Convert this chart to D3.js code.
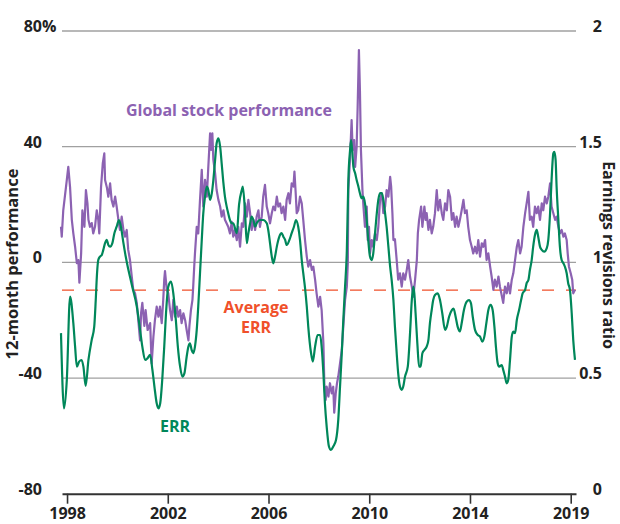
<!DOCTYPE html>
<html><head><meta charset="utf-8">
<script src="https://cdn.jsdelivr.net/npm/d3@7"></script>
<style>
body{margin:0;background:#fff}
svg{display:block}
text{font-family:"Open Sans",sans-serif;font-weight:700}
</style>
</head><body>
<svg id="chart" width="620" height="524"></svg>
<script>
// ---- data ----
const perfYears = [1997.76,1997.79,1997.85,1997.99,1998.05,1998.12,1998.19,1998.25,1998.32,1998.39,1998.45,1998.49,1998.56,1998.61,1998.69,1998.75,1998.81,1998.85,1998.91,1998.98,
1999.04,1999.11,1999.18,1999.24,1999.28,1999.35,1999.42,1999.48,1999.51,1999.58,1999.64,1999.71,1999.77,1999.84,1999.91,1999.97,
2000.04,2000.10,2000.17,2000.24,2000.30,2000.37,2000.43,2000.50,2000.57,2000.63,2000.70,2000.77,2000.83,2000.90,2000.94,2000.99,
2001.07,2001.12,2001.20,2001.30,2001.36,2001.43,2001.49,2001.56,2001.63,2001.69,2001.76,2001.82,2001.86,2001.89,2001.96,
2002.02,2002.09,2002.16,2002.22,2002.29,2002.36,2002.42,2002.49,2002.55,2002.62,2002.69,2002.75,2002.82,2002.86,2002.92,2002.98,
2003.01,2003.05,2003.08,2003.15,2003.21,2003.28,2003.35,2003.41,2003.48,2003.55,2003.61,2003.68,2003.72,2003.77,2003.81,2003.88,2003.94,
2004.01,2004.08,2004.14,2004.21,2004.27,2004.40,2004.47,2004.54,2004.60,2004.67,2004.74,2004.80,2004.87,2004.94,
2005.00,2005.07,2005.14,2005.20,2005.27,2005.33,2005.40,2005.47,2005.53,2005.60,2005.66,2005.73,2005.79,2005.86,2005.93,2005.99,
2006.06,2006.13,2006.19,2006.26,2006.33,2006.39,2006.46,2006.52,2006.59,2006.66,2006.72,2006.79,2006.85,2006.92,2006.99,
2007.03,2007.08,2007.12,2007.18,2007.25,2007.32,2007.38,2007.45,2007.52,2007.58,2007.65,2007.72,2007.78,2007.85,2007.91,2007.98,
2008.05,2008.11,2008.18,2008.22,2008.27,2008.31,2008.38,2008.44,2008.51,2008.57,2008.61,2008.67,2008.72,2008.77,2008.84,2008.91,2008.97,
2009.04,2009.11,2009.15,2009.17,2009.24,2009.30,2009.34,2009.40,2009.44,2009.50,2009.54,2009.59,2009.63,2009.67,2009.73,2009.77,2009.83,2009.90,2009.94,2009.99,
2010.03,2010.10,2010.16,2010.23,2010.30,2010.36,2010.43,2010.50,2010.56,2010.63,2010.69,2010.76,2010.83,2010.87,2010.92,2010.96,
2011.02,2011.09,2011.15,2011.22,2011.29,2011.35,2011.42,2011.49,2011.55,2011.62,2011.69,2011.75,2011.82,2011.89,2011.93,2011.98,
2012.06,2012.11,2012.19,2012.24,2012.28,2012.35,2012.41,2012.48,2012.54,2012.61,2012.68,2012.74,2012.81,2012.88,2012.94,
2013.01,2013.08,2013.14,2013.21,2013.28,2013.34,2013.41,2013.47,2013.54,2013.60,2013.67,2013.74,2013.80,2013.87,2013.93,
2014.00,2014.07,2014.13,2014.20,2014.27,2014.33,2014.40,2014.47,2014.53,2014.60,2014.66,2014.73,2014.80,2014.86,2014.93,2014.99,
2015.06,2015.13,2015.19,2015.32,2015.39,2015.46,2015.52,2015.59,2015.66,2015.72,2015.79,2015.86,2015.92,2015.99,
2016.05,2016.12,2016.19,2016.25,2016.32,2016.38,2016.45,2016.51,2016.58,2016.65,2016.71,2016.78,2016.85,2016.91,2016.98,
2017.05,2017.11,2017.18,2017.24,2017.31,2017.38,2017.44,2017.51,2017.57,2017.64,2017.71,2017.77,2017.84,2017.88,2017.93,
2018.00,2018.06,2018.10,2018.17];
const perfValues = [12.3,8.9,18,28.4,33,26,14.7,10,5.4,-0.3,0.8,-7,3.2,18,12.3,25,20.5,14.7,12.3,13.6,
10,12.3,18,14.7,10,26,34.3,37.7,28.5,26,22.7,27.3,21.6,19.3,22.7,19.3,
14.7,11.2,15.8,11.2,8.9,11.2,4.3,0.8,-4.9,-9.5,-10.7,-14,-20,-27,-17.6,-14,
-22,-16.5,-23.4,-21,-35,-25.7,-20,-15.3,-18.8,-15.3,-21,-13,-6,-3,-9.5,
-10.7,-16.5,-20,-13,-18.8,-15.3,-18.8,-16.5,-21,-17.6,-20,-23.4,-27,-22,-16.5,-13,
-8.4,-1.5,3.1,12.3,10,21.6,32,19.3,28.5,22.7,33,44.6,38.9,44.6,35.4,30.8,25,
21.6,19.3,15.8,18,14.7,12.3,10,14,8.9,11.2,7.7,12.3,5.4,13.5,
12.3,20.4,15.8,21.6,17,11.2,14.7,11.2,15.8,18,12.3,15.8,22.7,26.8,19.3,17,
13.5,17,19.3,18,22.7,19.3,20.4,17,19.3,14.7,21.6,23.9,20.4,27.3,26.2,
31.4,23.9,17,18,22.7,20.4,14.7,7.7,2,-1.5,0.8,-2.6,-1.5,-6,-10.7,-15.3,
-11.9,-16.5,-28,-43,-47.6,-43,-46.4,-41.8,-45.3,-43,-52,-45.3,-41.8,-39.5,-34.9,-30.3,-22.2,
-13,-8.4,-0.2,25,36.5,49.2,38.9,42.3,33,40,53.8,73.4,59.6,38.9,25,19.3,12.3,19.3,7.7,12.3,
3.1,7.7,5.4,10,7.7,12.3,21.6,23.9,17,19.3,25,22.7,29.6,26.2,17,7.7,
8,0.8,-6,-3.8,-8.4,-3.8,-6,-2.6,0.8,-4.9,-8.4,-11.9,-6,0.8,10,14.7,
19.3,12.3,19.3,14.7,17,11.2,14.7,10,12.3,17,25,18,21.6,17,14.7,
20.4,18,25,22.7,14.7,17,12.3,15.8,12.3,14.7,18,21.6,17,18,12.3,
7.7,5.4,3.1,5.4,3.1,7.7,2,6.6,5.4,7.7,0.8,3.1,-1.5,-4.9,-9.5,-6,
-8.4,-4.9,-8.4,-14,-8.4,-10.7,-7.2,-10.7,-6,-3.8,0.8,5.4,7.7,3.1,
5.4,12.3,17,20.4,24.4,14.7,15.8,12.3,19.3,17,19.3,14.7,20.4,18,22.7,
20.4,22.7,27.3,19.3,17,14.7,15.8,12.3,10,11.2,8.9,10,7.7,3.1,-1.5,
-3.8,-6,-10.7,-9.5];

const errYears = [1997.76,1997.88,1997.99,1998.12,1998.25,1998.32,1998.39,1998.48,1998.58,1998.65,1998.74,1998.85,1998.98,
1999.08,1999.14,1999.19,1999.24,1999.31,1999.38,1999.44,1999.51,1999.58,1999.64,1999.71,1999.80,1999.88,1999.97,
2000.06,2000.14,2000.24,2000.33,2000.41,2000.50,2000.59,2000.77,2000.90,2000.99,
2001.10,2001.20,2001.30,2001.39,2001.47,2001.56,2001.63,2001.70,2001.78,2001.86,2001.93,
2002.02,2002.13,2002.22,2002.32,2002.40,2002.49,2002.58,2002.66,2002.75,2002.82,2002.88,2002.95,
2003.01,2003.08,2003.15,2003.21,2003.28,2003.35,2003.41,2003.48,2003.55,2003.61,2003.68,2003.75,2003.81,2003.88,2003.94,
2004.01,2004.08,2004.14,2004.21,2004.27,2004.34,2004.40,2004.47,2004.54,2004.60,2004.74,2004.83,2004.94,2004.98,
2005.07,2005.14,2005.20,2005.27,2005.33,2005.40,2005.47,2005.53,2005.66,2005.79,2005.93,2005.99,
2006.06,2006.13,2006.19,2006.26,2006.33,2006.43,2006.52,2006.59,2006.66,2006.72,2006.83,2006.92,
2007.01,2007.09,2007.18,2007.25,2007.32,2007.38,2007.45,2007.52,2007.58,2007.69,2007.76,2007.85,2007.95,
2008.05,2008.11,2008.18,2008.24,2008.31,2008.40,2008.48,2008.57,2008.68,2008.77,2008.84,2008.91,2008.97,
2009.04,2009.11,2009.17,2009.24,2009.28,2009.33,2009.37,2009.44,2009.50,2009.57,2009.63,2009.70,2009.77,2009.83,2009.90,2009.96,
2010.03,2010.10,2010.16,2010.23,2010.30,2010.36,2010.43,2010.50,2010.56,2010.63,2010.69,2010.76,2010.83,2010.89,2010.96,
2011.02,2011.09,2011.15,2011.22,2011.29,2011.35,2011.42,2011.53,2011.62,2011.69,2011.75,2011.79,2011.84,2011.91,2011.98,
2012.04,2012.11,2012.19,2012.28,2012.35,2012.41,2012.48,2012.54,2012.61,2012.72,2012.81,2012.90,
2013.01,2013.08,2013.17,2013.28,2013.35,2013.43,2013.51,2013.60,2013.67,2013.76,2013.87,2013.96,
2014.04,2014.11,2014.20,2014.31,2014.40,2014.49,2014.57,2014.65,2014.73,2014.82,2014.90,2014.97,
2015.03,2015.10,2015.16,2015.26,2015.32,2015.39,2015.46,2015.52,2015.59,2015.66,2015.72,2015.79,2015.86,2015.95,
2016.03,2016.09,2016.19,2016.25,2016.32,2016.38,2016.45,2016.51,2016.58,2016.65,2016.71,2016.78,2016.85,2016.95,
2017.05,2017.11,2017.18,2017.24,2017.31,2017.35,2017.40,2017.44,2017.51,2017.57,2017.64,2017.71,2017.77,2017.84,2017.90,2017.97,
2018.04,2018.10,2018.17];
const errValues = [0.694,0.369,0.49,0.852,0.737,0.636,0.549,0.571,0.578,0.549,0.466,0.578,0.665,
0.722,0.837,0.95,1.01,1.025,1.032,1.054,1.083,1.097,1.075,1.068,1.083,1.126,1.154,
1.183,1.154,1.083,1.025,0.981,0.938,0.895,0.809,0.708,0.636,
0.578,0.586,0.6,0.535,0.463,0.391,0.369,0.391,0.492,0.636,0.78,
0.895,0.917,0.866,0.751,0.636,0.549,0.506,0.52,0.592,0.636,0.65,0.621,
0.607,0.636,0.708,0.809,0.953,1.097,1.212,1.284,1.327,1.313,1.27,1.299,1.356,1.443,1.515,
1.536,1.5,1.428,1.342,1.284,1.241,1.212,1.183,1.169,1.169,1.126,1.25,1.313,1.327,
1.212,1.083,1.126,1.169,1.198,1.183,1.154,1.169,1.183,1.183,1.169,1.14,
1.083,1.025,0.996,1.025,1.068,1.111,1.126,1.111,1.097,1.075,1.097,1.126,
1.154,1.183,1.154,1.097,1.01,0.953,0.89,0.809,0.72,0.607,0.571,0.636,0.686,
0.686,0.636,0.52,0.391,0.29,0.204,0.189,0.204,0.232,0.319,0.463,0.607,0.751,
0.895,1.05,1.356,1.486,1.528,1.471,1.414,1.385,1.356,1.327,1.299,1.277,1.284,1.255,1.183,1.097,
1.025,1.01,1.039,1.126,1.212,1.27,1.299,1.299,1.27,1.212,1.154,1.068,0.981,0.924,0.837,
0.722,0.607,0.52,0.463,0.449,0.463,0.506,0.549,0.694,0.837,0.895,0.866,0.78,0.65,0.549,
0.549,0.607,0.621,0.636,0.665,0.737,0.794,0.837,0.859,0.866,0.837,0.78,
0.708,0.722,0.765,0.794,0.8,0.765,0.722,0.701,0.737,0.794,0.83,0.837,
0.823,0.765,0.708,0.686,0.679,0.657,0.679,0.737,0.794,0.816,0.794,0.722,
0.636,0.564,0.549,0.556,0.535,0.506,0.477,0.492,0.578,0.679,0.701,0.694,0.751,0.794,
0.837,0.866,0.881,0.91,0.924,0.967,1.01,1.068,1.118,1.14,1.111,1.068,1.054,1.046,
1.061,1.097,1.212,1.356,1.471,1.478,1.443,1.327,1.183,1.068,1.01,0.996,0.981,0.953,0.91,0.881,
0.78,0.665,0.578];

const averageErr = 0.88;
const leftTicks = [-80, -40, 0, 40, 80];
const rightTicks = [0, 0.5, 1, 1.5, 2];
const xTickYears = [1998, 2002, 2006, 2010, 2014, 2018];
const xTickLabels = ["1998", "2002", "2006", "2010", "2014", "2019"];

// ---- drawing ----
const purple = "#8c62b2", green = "#00875a", red = "#f0502a", ink = "#222";
const svg = d3.select("#chart");
const x = d3.scaleLinear().domain([1997.8, 2018.21]).range([62, 576]);
const yL = d3.scaleLinear().domain([-80, 80]).range([493.7, 31]);
const yR = d3.scaleLinear().domain([0, 2]).range([493.7, 31]);

// gridlines
svg.append("g").selectAll("line").data(leftTicks.filter(d => d > -80)).join("line")
  .attr("x1", 62).attr("x2", 576)
  .attr("y1", d => yL(d)).attr("y2", d => yL(d))
  .attr("stroke", "#a0a0a0").attr("stroke-width", 1.3);

// bottom axis
const xAxis = d3.axisBottom(x).tickValues(xTickYears)
  .tickFormat((d, i) => xTickLabels[i]).tickSize(10).tickSizeOuter(0).tickPadding(4);
const gx = svg.append("g").attr("transform", `translate(0,${yL(-80)})`).call(xAxis);
gx.select(".domain").attr("stroke", "#333").attr("stroke-width", 2);
gx.selectAll(".tick line").attr("stroke", "#333").attr("stroke-width", 1.6);
gx.selectAll(".tick text").attr("font-size", 16).attr("fill", ink)
  .attr("font-family", "'Open Sans',sans-serif").attr("font-weight", 700);

// left tick labels
svg.append("g").selectAll("text").data(leftTicks).join("text")
  .attr("x", 42).attr("y", d => yL(d) + 1).attr("text-anchor", "end")
  .attr("font-size", 16).attr("fill", ink).text(d => String(d));
svg.append("text").attr("x", 42).attr("y", yL(80) + 1).attr("font-size", 16)
  .attr("fill", ink).text("%");

// right tick labels
svg.append("g").selectAll("text").data(rightTicks).join("text")
  .attr("x", 602).attr("y", d => yR(d) + 1).attr("text-anchor", "end")
  .attr("font-size", 16).attr("fill", ink).text(d => String(d));

// average ERR dashed line
svg.append("line").attr("x1", 62).attr("x2", 576)
  .attr("y1", yR(averageErr)).attr("y2", yR(averageErr))
  .attr("stroke", red).attr("stroke-width", 1.4).attr("stroke-dasharray", "12,12");

// series lines
const perfData = perfYears.map((t, i) => [t, perfValues[i]]);
const errData = errYears.map((t, i) => [t, errValues[i]]);
svg.append("path").datum(perfData)
  .attr("d", d3.line().x(d => x(d[0])).y(d => yL(d[1])))
  .attr("fill", "none").attr("stroke", purple).attr("stroke-width", 2.2)
  .attr("stroke-linejoin", "round");
svg.append("path").datum(errData)
  .attr("d", d3.line().x(d => x(d[0])).y(d => yR(d[1])).curve(d3.curveMonotoneX))
  .attr("fill", "none").attr("stroke", green).attr("stroke-width", 2.2)
  .attr("stroke-linejoin", "round");

// annotations
svg.append("text").attr("x", 229).attr("y", 116).attr("text-anchor", "middle")
  .attr("font-size", 16).attr("fill", purple).text("Global stock performance");
svg.append("text").attr("x", 256).attr("y", 312.5).attr("text-anchor", "middle")
  .attr("font-size", 16).attr("fill", red).text("Average");
svg.append("text").attr("x", 256).attr("y", 332.5).attr("text-anchor", "middle")
  .attr("font-size", 16).attr("fill", red).text("ERR");
svg.append("text").attr("x", 175).attr("y", 431.5).attr("text-anchor", "middle")
  .attr("font-size", 16).attr("fill", green).text("ERR");

// axis titles
svg.append("text").attr("transform", "translate(17.5,264) rotate(-90)")
  .attr("text-anchor", "middle").attr("font-size", 16.5).attr("fill", ink)
  .text("12-month performance");
svg.append("text").attr("transform", "translate(602.8,255) rotate(90)")
  .attr("text-anchor", "middle").attr("font-size", 16).attr("fill", ink)
  .text("Earnings revisions ratio");
</script>
</body></html>
